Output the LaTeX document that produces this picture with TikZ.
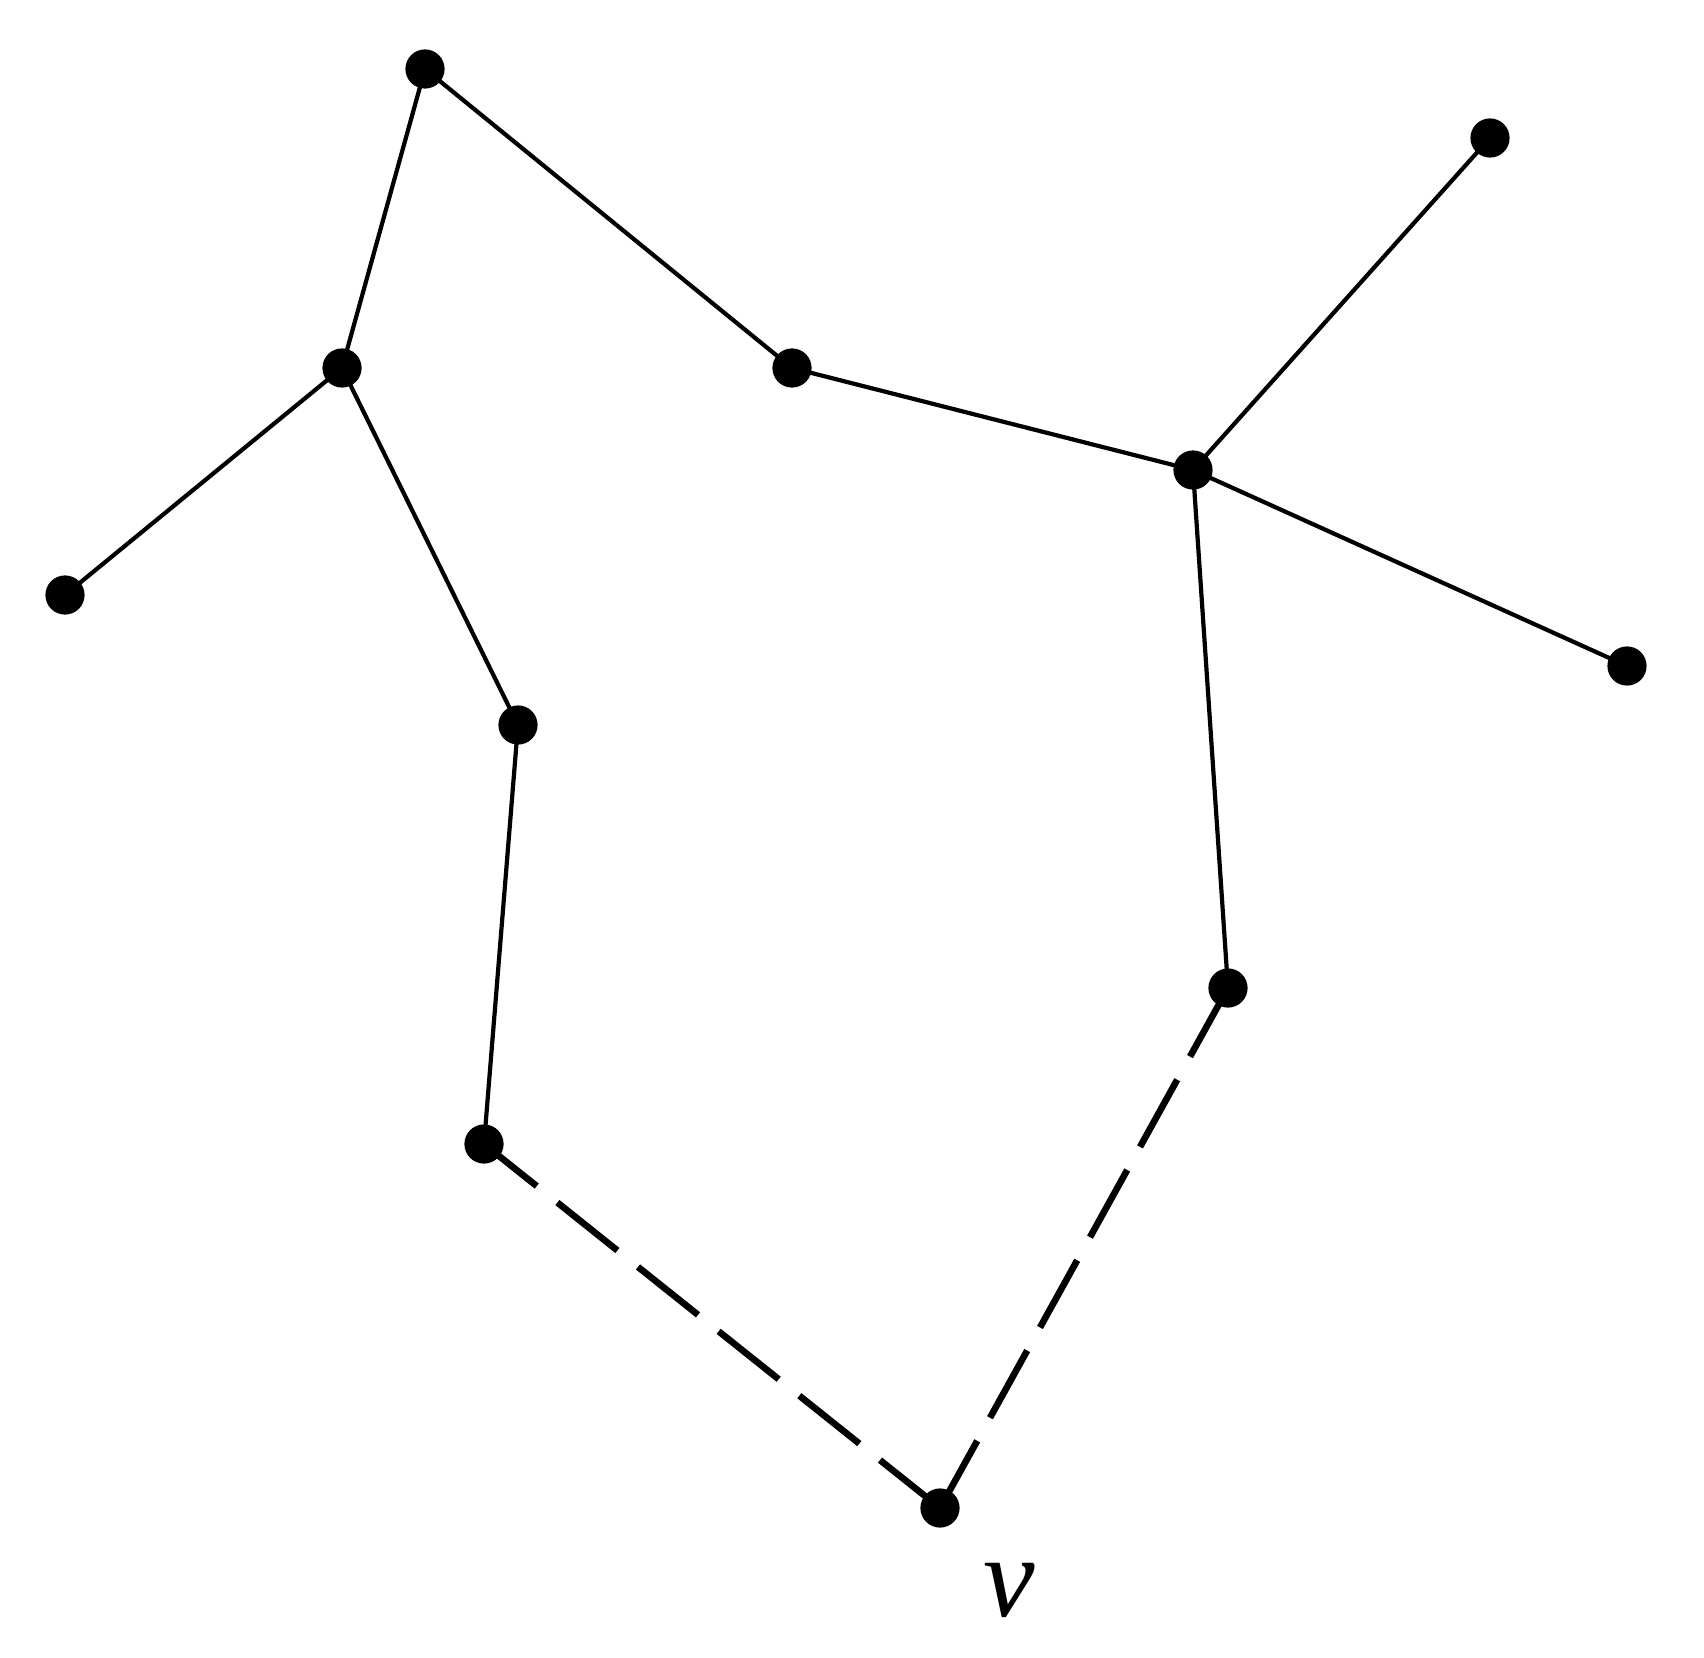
\documentclass[tikz,border=0pt]{standalone}
\usepackage{fontspec}
\setmainfont{Liberation Serif}
\tikzset{
  dot/.style={circle,fill=black,inner sep=0pt,minimum size=9.8pt},
  edge/.style={line width=1.05pt},
  dedge/.style={line width=1.65pt,dash pattern=on 19.2pt off 6.6pt},
}
\begin{document}
\begin{tikzpicture}[x=0.25pt,y=-0.25pt]
\useasboundingbox (0,0) rectangle (1704,1658);
\coordinate (A) at (425,69);
\coordinate (B) at (342,368);
\coordinate (C) at (65,595);
\coordinate (D) at (518,725);
\coordinate (E) at (484,1144);
\coordinate (F) at (792,368);
\coordinate (G) at (1193,470);
\coordinate (H) at (1490,138);
\coordinate (I) at (1627,666);
\coordinate (J) at (1228,988);
\coordinate (V) at (940,1508);
\draw[edge] (A) -- (B);
\draw[edge] (A) -- (F);
\draw[edge] (B) -- (C);
\draw[edge] (B) -- (D);
\draw[edge] (D) -- (E);
\draw[edge] (F) -- (G);
\draw[edge] (G) -- (H);
\draw[edge] (G) -- (I);
\draw[edge] (G) -- (J);
\draw[dedge] (V) -- (E);
\draw[dedge] (V) -- (J);
\foreach \n in {A,B,C,D,E,F,G,H,I,J,V} \node[dot] (n\n) at (\n) {};
\node[inner sep=0pt] (lv) at (1009,1590) {\fontsize{29}{30}\selectfont\itshape v};
\end{tikzpicture}
\end{document}
